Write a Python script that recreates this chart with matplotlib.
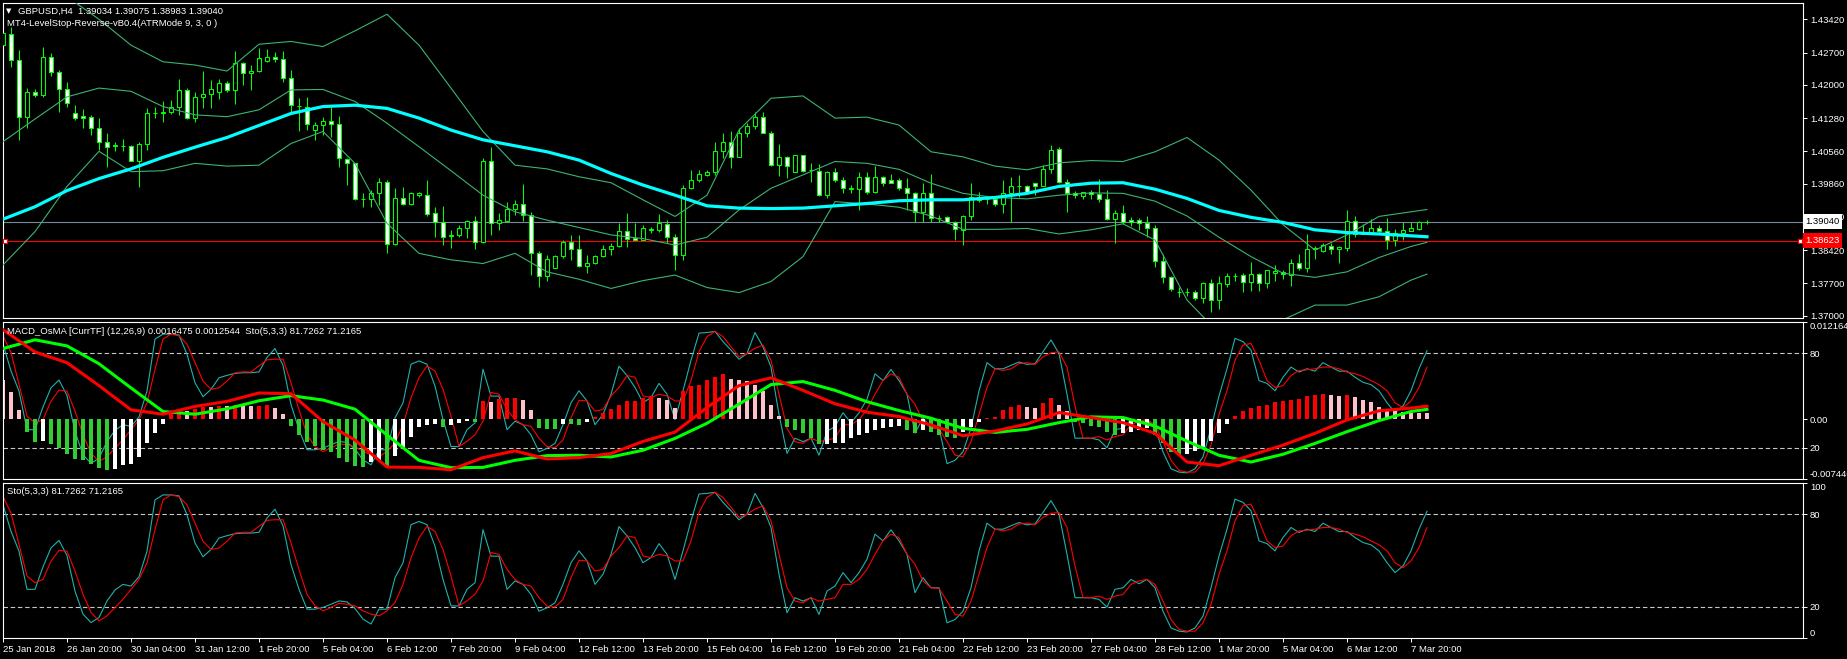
import matplotlib
matplotlib.use("Agg")
import matplotlib.pyplot as plt
import matplotlib.transforms as mtrans
import numpy as np

plt.rcParams['font.family'] = ['Liberation Sans', 'DejaVu Sans']

symbol_line = "GBPUSD,H4  1.39034 1.39075 1.38983 1.39040"
indicator_line = "MT4-LevelStop-Reverse-vB0.4(ATRMode 9, 3, 0 )"
macd_title = "MACD_OsMA [CurrTF] (12,26,9) 0.0016475 0.0012544  Sto(5,3,3) 81.7262 71.2165"
sto_title = "Sto(5,3,3) 81.7262 71.2165"

date_labels = ["25 Jan 2018", "26 Jan 20:00", "30 Jan 04:00", "31 Jan 12:00", "1 Feb 20:00",
               "5 Feb 04:00", "6 Feb 12:00", "7 Feb 20:00", "9 Feb 04:00", "12 Feb 12:00",
               "13 Feb 20:00", "15 Feb 04:00", "16 Feb 12:00", "19 Feb 20:00", "21 Feb 04:00",
               "22 Feb 12:00", "23 Feb 20:00", "27 Feb 04:00", "28 Feb 12:00", "1 Mar 20:00",
               "5 Mar 04:00", "6 Mar 12:00", "7 Mar 20:00"]
price_ticks = [1.43420, 1.42700, 1.42000, 1.41280, 1.40560, 1.39860, 1.39140, 1.38420, 1.37700, 1.37000]
bid = 1.39040
level_line = 1.38623

# H4 candles, bar 0 = 25 Jan 12:00
opens = [1.4286, 1.4310, 1.4254, 1.4131, 1.4185, 1.4178, 1.4260, 1.4227, 1.4190, 1.4138,
         1.4133, 1.4131, 1.4106, 1.4077, 1.4068, 1.4068, 1.4068, 1.4035, 1.4071, 1.4138,
         1.4140, 1.4141, 1.4153, 1.4189, 1.4128, 1.4174, 1.4180, 1.4185, 1.4203, 1.4188,
         1.4247, 1.4225, 1.4229, 1.4252, 1.4261, 1.4257, 1.4214, 1.4155, 1.4153, 1.4102,
         1.4112, 1.4121, 1.4115, 1.4039, 1.4030, 1.3952, 1.3953, 1.3965, 1.3990, 1.3855,
         1.3956, 1.3942, 1.3962, 1.3961, 1.3922, 1.3904, 1.3873, 1.3874, 1.3889, 1.3905,
         1.3860, 1.4036, 1.3900, 1.3906, 1.3932, 1.3941, 1.3918, 1.3835, 1.3785, 1.3804,
         1.3829, 1.3860, 1.3844, 1.3808, 1.3815, 1.3830, 1.3844, 1.3850, 1.3883, 1.3868,
         1.3864, 1.3886, 1.3886, 1.3898, 1.3870, 1.3832, 1.3976, 1.3993, 1.4005, 1.4012,
         1.4057, 1.4077, 1.4044, 1.4096, 1.4111, 1.4130, 1.4096, 1.4026, 1.4043, 1.4012,
         1.4047, 1.4015, 1.4014, 1.3961, 1.4012, 1.3993, 1.3975, 1.3974, 1.4001, 1.3969,
         1.4001, 1.3994, 1.3994, 1.3976, 1.3966, 1.3924, 1.3965, 1.3911, 1.3913, 1.3902,
         1.3886, 1.3917, 1.3958, 1.3952, 1.3953, 1.3943, 1.3965, 1.3980, 1.3980, 1.3987,
         1.3981, 1.4017, 1.4060, 1.3990, 1.3965, 1.3959, 1.3967, 1.3963, 1.3952, 1.3909,
         1.3922, 1.3907, 1.3907, 1.3900, 1.3889, 1.3819, 1.3783, 1.3752, 1.3751, 1.3752,
         1.3738, 1.3770, 1.3734, 1.3768, 1.3786, 1.3788, 1.3773, 1.3790, 1.3770, 1.3792,
         1.3795, 1.3788, 1.3815, 1.3803, 1.3845, 1.3841, 1.3852, 1.3844, 1.3846, 1.3905,
         1.3878, 1.3880, 1.3891, 1.3883, 1.3864, 1.3880, 1.3884, 1.3888, 1.39034]
highs = [1.4315, 1.4326, 1.4276, 1.4193, 1.4190, 1.4283, 1.4268, 1.4232, 1.4207, 1.4156,
         1.4147, 1.4135, 1.4129, 1.4095, 1.4077, 1.4082, 1.4070, 1.4077, 1.4149, 1.4151,
         1.4165, 1.4167, 1.4213, 1.4193, 1.4185, 1.4231, 1.4211, 1.4212, 1.4209, 1.4274,
         1.4250, 1.4243, 1.4279, 1.4277, 1.4272, 1.4274, 1.4232, 1.4171, 1.4174, 1.4120,
         1.4130, 1.4153, 1.4133, 1.4041, 1.4031, 1.3965, 1.3972, 1.3998, 1.3994, 1.3976,
         1.3978, 1.3969, 1.3969, 1.3994, 1.3936, 1.3938, 1.3886, 1.3897, 1.3907, 1.3916,
         1.4041, 1.4066, 1.3922, 1.3947, 1.3951, 1.3985, 1.3925, 1.3841, 1.3831, 1.3831,
         1.3865, 1.3875, 1.3875, 1.3831, 1.3831, 1.3853, 1.3857, 1.3901, 1.3922, 1.3901,
         1.3897, 1.3893, 1.3920, 1.3907, 1.3878, 1.3983, 1.4016, 1.4016, 1.4016, 1.4077,
         1.4095, 1.4099, 1.4107, 1.4117, 1.4142, 1.4142, 1.4101, 1.4072, 1.4046, 1.4048,
         1.4048, 1.4031, 1.4029, 1.4014, 1.4019, 1.4001, 1.3983, 1.4012, 1.4012, 1.4024,
         1.4003, 1.4007, 1.3999, 1.3999, 1.3969, 1.3988, 1.4007, 1.3918, 1.3915, 1.3906,
         1.3918, 1.3987, 1.3969, 1.3959, 1.3958, 1.3994, 1.4001, 1.4005, 1.3983, 1.3988,
         1.4026, 1.4070, 1.4066, 1.3995, 1.3971, 1.3969, 1.3972, 1.3995, 1.3972, 1.3930,
         1.3940, 1.3913, 1.3911, 1.3916, 1.3897, 1.3834, 1.3786, 1.3762, 1.3759, 1.3756,
         1.3774, 1.3779, 1.3785, 1.3793, 1.3793, 1.3792, 1.3816, 1.3793, 1.3799, 1.3810,
         1.3798, 1.3822, 1.3834, 1.3877, 1.3851, 1.3858, 1.3858, 1.3851, 1.3929, 1.3915,
         1.3899, 1.3909, 1.3896, 1.3911, 1.3887, 1.3902, 1.3904, 1.3906, 1.39075]
lows = [1.4250, 1.4239, 1.4081, 1.4106, 1.4174, 1.4174, 1.4219, 1.4142, 1.4153, 1.4124,
        1.4107, 1.4091, 1.4059, 1.4023, 1.4057, 1.4057, 1.4034, 1.3978, 1.4059, 1.4128,
        1.4120, 1.4137, 1.4135, 1.4125, 1.4120, 1.4149, 1.4149, 1.4169, 1.4185, 1.4159,
        1.4200, 1.4188, 1.4227, 1.4250, 1.4250, 1.4207, 1.4140, 1.4099, 1.4102, 1.4081,
        1.4091, 1.4088, 1.4023, 1.3983, 1.3951, 1.3936, 1.3936, 1.3940, 1.3835, 1.3853,
        1.3940, 1.3940, 1.3958, 1.3916, 1.3871, 1.3853, 1.3846, 1.3870, 1.3868, 1.3844,
        1.3857, 1.3875, 1.3886, 1.3902, 1.3918, 1.3906, 1.3788, 1.3763, 1.3776, 1.3803,
        1.3824, 1.3821, 1.3806, 1.3793, 1.3813, 1.3828, 1.3831, 1.3848, 1.3848, 1.3863,
        1.3863, 1.3880, 1.3882, 1.3857, 1.3799, 1.3821, 1.3974, 1.3990, 1.4003, 1.4005,
        1.4041, 1.4019, 1.4043, 1.4086, 1.4104, 1.4095, 1.4024, 1.4003, 1.3998, 1.4011,
        1.4012, 1.3990, 1.3959, 1.3956, 1.3990, 1.3966, 1.3965, 1.3930, 1.3964, 1.3966,
        1.3981, 1.3987, 1.3972, 1.3928, 1.3904, 1.3904, 1.3904, 1.3902, 1.3900, 1.3865,
        1.3853, 1.3907, 1.3947, 1.3942, 1.3938, 1.3922, 1.3904, 1.3958, 1.3966, 1.3961,
        1.3980, 1.4008, 1.3988, 1.3925, 1.3954, 1.3952, 1.3952, 1.3947, 1.3907, 1.3857,
        1.3899, 1.3894, 1.3886, 1.3871, 1.3806, 1.3770, 1.3754, 1.3741, 1.3743, 1.3735,
        1.3727, 1.3709, 1.3714, 1.3763, 1.3776, 1.3752, 1.3754, 1.3754, 1.3759, 1.3776,
        1.3779, 1.3764, 1.3800, 1.3795, 1.3822, 1.3839, 1.3834, 1.3815, 1.3841, 1.3870,
        1.3877, 1.3877, 1.3878, 1.3844, 1.3851, 1.3865, 1.3883, 1.3886, 1.38983]
closes = [1.4312, 1.4254, 1.4131, 1.4185, 1.4179, 1.4260, 1.4227, 1.4190, 1.4160, 1.4128,
          1.4128, 1.4106, 1.4077, 1.4066, 1.4069, 1.4067, 1.4035, 1.4071, 1.4138, 1.4140,
          1.4141, 1.4153, 1.4189, 1.4128, 1.4174, 1.4180, 1.4190, 1.4203, 1.4188, 1.4247,
          1.4225, 1.4229, 1.4259, 1.4261, 1.4255, 1.4214, 1.4156, 1.4154, 1.4115, 1.4112,
          1.4121, 1.4115, 1.4041, 1.4030, 1.3952, 1.3953, 1.3965, 1.3990, 1.3855, 1.3956,
          1.3943, 1.3965, 1.3965, 1.3920, 1.3904, 1.3871, 1.3874, 1.3889, 1.3905, 1.3860,
          1.4036, 1.3900, 1.3907, 1.3932, 1.3943, 1.3918, 1.3835, 1.3785, 1.3822, 1.3829,
          1.3860, 1.3844, 1.3808, 1.3815, 1.3830, 1.3844, 1.3850, 1.3883, 1.3866, 1.3864,
          1.3889, 1.3887, 1.3900, 1.3870, 1.3832, 1.3976, 1.3993, 1.4007, 1.4012, 1.4057,
          1.4077, 1.4044, 1.4096, 1.4111, 1.4130, 1.4096, 1.4026, 1.4043, 1.4024, 1.4047,
          1.4014, 1.4016, 1.3961, 1.4012, 1.3994, 1.3976, 1.3976, 1.4001, 1.3969, 1.4001,
          1.3988, 1.3988, 1.3976, 1.3966, 1.3924, 1.3965, 1.3911, 1.3912, 1.3902, 1.3887,
          1.3917, 1.3958, 1.3951, 1.3953, 1.3943, 1.3965, 1.3980, 1.3981, 1.3969, 1.3981,
          1.4017, 1.4059, 1.3990, 1.3965, 1.3961, 1.3967, 1.3963, 1.3952, 1.3909, 1.3922,
          1.3902, 1.3903, 1.3900, 1.3889, 1.3819, 1.3783, 1.3757, 1.3751, 1.3752, 1.3738,
          1.3770, 1.3734, 1.3770, 1.3786, 1.3787, 1.3773, 1.3790, 1.3770, 1.3798, 1.3797,
          1.3790, 1.3815, 1.3803, 1.3844, 1.3846, 1.3853, 1.3844, 1.3848, 1.3905, 1.3878,
          1.3882, 1.3891, 1.3883, 1.3864, 1.3880, 1.3886, 1.3889, 1.3902, 1.39040]

# smooth overlays, read every 4 bars
line_bars = [0, 4, 8, 12, 16, 20, 24, 28, 32, 36, 40, 44, 48, 52, 56, 60, 64, 68, 72, 76,
             80, 84, 88, 92, 96, 100, 104, 108, 112, 116, 120, 124, 128, 132, 136, 140, 144,
             148, 152, 156, 160, 164, 168, 172, 176, 178]
ma_cyan = [1.3909, 1.3936, 1.3971, 1.3997, 1.4018, 1.4043, 1.4065, 1.4086, 1.4112, 1.4138,
           1.4153, 1.4156, 1.4149, 1.4128, 1.4102, 1.4081, 1.4068, 1.4055, 1.4037, 1.4008,
           1.3983, 1.3961, 1.3938, 1.3933, 1.3932, 1.3933, 1.3938, 1.3943, 1.3949, 1.3951,
           1.3951, 1.3956, 1.3965, 1.3980, 1.3987, 1.3988, 1.3974, 1.3954, 1.3928, 1.3913,
           1.3902, 1.3886, 1.3880, 1.3877, 1.3873, 1.3871]
band_upper = [1.4499, 1.4449, 1.4391, 1.4342, 1.4286, 1.4250, 1.4243, 1.4230, 1.4288, 1.4294,
              1.4283, 1.4317, 1.4353, 1.4286, 1.4193, 1.4099, 1.4026, 1.4018, 1.4001, 1.3988,
              1.3951, 1.3915, 1.3961, 1.4102, 1.4171, 1.4176, 1.4128, 1.4130, 1.4113, 1.4055,
              1.4044, 1.4024, 1.4016, 1.4031, 1.4036, 1.4034, 1.4055, 1.4086, 1.4037, 1.3972,
              1.3897, 1.3842, 1.3875, 1.3915, 1.3925, 1.3930]
band_mid = [1.4077, 1.4126, 1.4174, 1.4193, 1.4186, 1.4153, 1.4135, 1.4131, 1.4146, 1.4189,
            1.4190, 1.4164, 1.4117, 1.4066, 1.4014, 1.3961, 1.3925, 1.3907, 1.3891, 1.3875,
            1.3867, 1.3853, 1.3870, 1.3929, 1.3976, 1.4005, 1.4034, 1.4030, 1.4017, 1.3987,
            1.3965, 1.3956, 1.3953, 1.3961, 1.3966, 1.3965, 1.3948, 1.3916, 1.3870, 1.3828,
            1.3792, 1.3783, 1.3795, 1.3826, 1.3850, 1.3859]
band_lower = [1.3810, 1.3882, 1.3980, 1.4056, 1.4012, 1.4014, 1.4030, 1.4024, 1.4026, 1.4073,
              1.4099, 1.4030, 1.3900, 1.3835, 1.3821, 1.3813, 1.3835, 1.3795, 1.3779, 1.3759,
              1.3776, 1.3788, 1.3761, 1.3750, 1.3774, 1.3828, 1.3947, 1.3942, 1.3935, 1.3916,
              1.3887, 1.3887, 1.3889, 1.3877, 1.3886, 1.3899, 1.3864, 1.3734, 1.3662, 1.3655,
              1.3691, 1.3723, 1.3723, 1.3741, 1.3777, 1.3790]

# MACD_OsMA window
osma = [0.00498, 0.00338, 0.00120, -0.00153, -0.00279, -0.00267, -0.00309, -0.00363, -0.00435, -0.00490,
        -0.00511, -0.00561, -0.00603, -0.00637, -0.00616, -0.00574, -0.00561, -0.00468, -0.00292, -0.00166,
        -0.00057, 0.00078, 0.00128, 0.00111, 0.00128, 0.00153, 0.00150, 0.00170, 0.00168, 0.00179,
        0.00175, 0.00165, 0.00170, 0.00180, 0.00141, 0.00069, -0.00082, -0.00195, -0.00279, -0.00334,
        -0.00384, -0.00405, -0.00477, -0.00532, -0.00586, -0.00595, -0.00532, -0.00511, -0.00595, -0.00460,
        -0.00351, -0.00216, -0.00099, -0.00069, -0.00061, -0.00090, -0.00069, -0.00048, -0.00015, -0.00027,
        0.00225, 0.00212, 0.00255, 0.00267, 0.00270, 0.00246, 0.00120, -0.00111, -0.00115, -0.00120,
        -0.00057, -0.00060, -0.00065, -0.00027, 0.00027, 0.00078, 0.00128, 0.00183, 0.00225, 0.00226,
        0.00267, 0.00288, 0.00267, 0.00246, 0.00141, 0.00351, 0.00414, 0.00435, 0.00498, 0.00532,
        0.00561, 0.00506, 0.00490, 0.00475, 0.00435, 0.00351, 0.00183, 0.00044, -0.00090, -0.00132,
        -0.00174, -0.00237, -0.00309, -0.00305, -0.00300, -0.00290, -0.00237, -0.00195, -0.00174, -0.00132,
        -0.00111, -0.00090, -0.00080, -0.00132, -0.00174, -0.00132, -0.00153, -0.00195, -0.00216, -0.00237,
        -0.00153, -0.00090, -0.00027, 0.00015, 0.00036, 0.00120, 0.00153, 0.00183, 0.00153, 0.00141,
        0.00204, 0.00267, 0.00183, 0.00099, -0.00027, -0.00048, -0.00082, -0.00090, -0.00153, -0.00195,
        -0.00174, -0.00153, -0.00132, -0.00111, -0.00195, -0.00300, -0.00405, -0.00439, -0.00426, -0.00393,
        -0.00342, -0.00267, -0.00166, -0.00057, 0.00044, 0.00099, 0.00141, 0.00162, 0.00183, 0.00212,
        0.00225, 0.00246, 0.00254, 0.00288, 0.00309, 0.00321, 0.00309, 0.00288, 0.00300, 0.00279,
        0.00246, 0.00212, 0.00153, 0.00128, 0.00099, 0.00090, 0.00085, 0.00082, 0.00079]
macd_main = [0.01120, 0.00842, 0.00708, 0.00422, 0.00120, 0.00065, 0.00162, 0.00225, 0.00330, 0.00321,
             -0.00027, -0.00258, -0.00595, -0.00599, -0.00628, -0.00477, -0.00393, -0.00494, -0.00477, -0.00426,
             -0.00275, -0.00158, 0.00149, 0.00422, 0.00519, 0.00363, 0.00195, 0.00090, 0.00036, -0.00069,
             -0.00204, -0.00145, -0.00057, 0.00086, 0.00023, -0.00040, -0.00174, -0.00532, -0.00578, -0.00448,
             -0.00321, -0.00174, -0.00006, 0.00107, 0.00141, 0.0016475]
macd_signal = [0.00885, 0.00994, 0.00918, 0.00695, 0.00393, 0.00099, 0.00065, 0.00132, 0.00233, 0.00296,
               0.00242, 0.00128, -0.00195, -0.00511, -0.00603, -0.00599, -0.00511, -0.00452, -0.00448, -0.00469,
               -0.00385, -0.00237, -0.00048, 0.00191, 0.00435, 0.00473, 0.00363, 0.00221, 0.00111, 0.00015,
               -0.00111, -0.00162, -0.00124, -0.00040, 0.00032, 0.00023, -0.00082, -0.00271, -0.00448, -0.00532,
               -0.00435, -0.00300, -0.00153, -0.00015, 0.00099, 0.0012544]

# Stochastic(5,3,3), shown in both lower windows
sto_main = [85.9, 68.8, 56.0, 31.4, 31.4, 45.9, 58.1, 63.0, 53.2, 30.3, 15.4, 10.0, 13.2, 23.9, 31.0,
            34.6, 33.5, 39.5, 56.0, 89.1, 92.3, 92.3, 91.7, 79.5, 61.3, 52.4, 57.1, 64.5, 66.0, 67.3,
            67.7, 67.7, 68.2, 77.4, 83.1, 72.4, 47.4, 31.4, 18.6, 18.6, 19.7, 21.8, 23.9, 23.3, 19.0,
            12.2, 9.0, 18.6, 18.6, 38.9, 48.5, 73.1, 75.2, 73.1, 59.2, 37.8, 20.7, 20.7, 31.4, 35.7,
            69.9, 52.8, 52.8,
            31.4, 36.8, 34.6, 28.1, 17.3, 19.5, 22.7, 34.6, 48.6, 56.2,
            49.7, 34.6, 41.1, 54.0, 71.9, 65.9, 58.3, 48.6, 51.9, 60.9,
            54.0, 37.8, 56.2, 75.6, 92.9, 93.3, 94.0, 87.5, 82.1, 76.3,
            79.9, 93.3, 84.2, 71.3, 41.1, 16.3, 26.0, 23.8, 26.0, 15.2,
            30.3, 33.5, 42.2, 35.7, 42.2, 50.8, 67.0, 62.7, 69.8, 62.7,
            54.0, 29.2, 38.9, 32.4, 32.4, 9.8, 11.9, 17.3, 32.4, 56.2,
            74.1, 70.2, 70.2, 72.4, 74.5, 73.0, 73.5, 81.0, 88.6, 79.9,
            54.0, 26.0, 26.0, 26.0, 24.9, 19.9, 31.4, 32.4, 37.8, 35.0,
            37.8, 32.4, 17.3, 6.5, 4.4, 3.9, 6.5, 14.1, 32.4, 52.9,
            70.2, 89.6, 87.5, 82.1, 62.7, 60.9, 56.2, 64.8, 71.3, 68.1,
            70.2, 68.7, 74.1, 71.3, 68.7, 68.7, 64.8, 61.6, 60.1, 56.2,
            48.6, 42.2, 46.5, 56.2, 70.2, 81.7262]
sto_signal = [91.2, 80.6, 60.3, 40.0, 35.7, 37.8, 49.6, 56.6, 56.0, 43.2, 28.2, 16.5, 11.1, 14.3, 19.7,
              25.0, 31.4, 37.8, 48.5, 69.9, 89.1, 92.3, 91.2, 85.9, 74.1, 62.4, 57.1, 58.1, 62.4, 67.7,
              68.2, 68.2, 72.0, 75.9, 76.3, 76.3, 61.3, 44.2, 28.2, 20.7, 17.5, 19.7, 22.4, 21.8, 20.7,
              17.5, 15.4, 14.3, 17.5, 22.9, 34.6, 51.7, 64.5, 72.0, 68.8, 57.1, 40.0, 20.7, 24.0, 28.2,
              36.8, 55.1, 54.0,
              44.3, 37.8, 34.6, 33.5, 26.0, 20.6, 19.9, 24.9, 38.9, 50.1,
              49.7, 43.2, 44.3, 52.9, 58.3, 65.9, 64.8, 52.9, 51.9, 54.0,
              52.9, 49.7, 49.7, 62.7, 81.0, 90.7, 94.0, 90.7, 84.2, 77.8,
              79.9, 83.2, 85.3, 75.6, 54.0, 32.4, 23.8, 22.7, 26.0, 23.8,
              24.9, 26.0, 34.6, 34.6, 37.8, 44.3, 54.0, 62.7, 67.0, 64.8,
              54.0, 47.5, 36.8, 32.4, 32.0, 23.8, 15.2, 14.1, 23.8, 41.1,
              58.3, 70.2, 69.1, 70.2, 73.5, 74.1, 73.0, 77.8, 80.4, 81.0,
              71.3, 46.5, 26.0, 26.0, 27.0, 24.9, 27.0, 28.1, 34.6, 36.8,
              37.8, 34.6, 23.8, 11.9, 5.5, 4.4, 4.4, 9.8, 21.6, 41.1,
              56.2, 75.6, 85.3, 86.4, 75.6, 62.7, 58.3, 59.4, 65.9, 69.1,
              69.6, 70.2, 71.3, 71.3, 70.2, 68.1, 67.0, 65.3, 62.7, 60.1,
              56.2, 48.6, 45.4, 49.7, 58.3, 71.2165]

W, H = 1847, 659
BG = 'black'
FS = 6.8
fig = plt.figure(figsize=(W / 100, H / 100), dpi=100, facecolor=BG)


def right_ticks(a):
    a.yaxis.tick_right()
    a.yaxis.set_label_position('right')
    a.tick_params(axis='y', colors='white', direction='out', length=3, width=0.7,
                  labelsize=FS, pad=2)


def px_axes(x0, y0, x1, y1):
    a = fig.add_axes([x0 / W, 1 - y1 / H, (x1 - x0) / W, (y1 - y0) / H])
    a.set_facecolor(BG)
    for s in a.spines.values():
        s.set_color('white')
        s.set_linewidth(0.8)
    a.set_xlim(0, 225)
    a.set_xticks([])
    right_ticks(a)
    return a


def ftext(x, y, s, **kw):
    kw.setdefault('fontsize', FS)
    fig.text(x / W, 1 - y / H, s, color='white', va='center', ha='left', **kw)


ax = px_axes(3, 3, 1803, 318)
am = px_axes(3, 322, 1803, 479)
ast = px_axes(3, 483, 1803, 638)

# ---- price window
o, h, l, c = (np.array(v) for v in (opens, highs, lows, closes))
x = np.arange(len(c))
ax.vlines(x, l, h, color='#00ff00', lw=0.75, zorder=2)
bull = c >= o
ax.bar(x, np.abs(c - o), 0.62, np.minimum(o, c), color=np.where(bull, 'black', 'white'),
       edgecolor='#00ff00', linewidth=0.75, zorder=3)
for band in (band_upper, band_mid, band_lower):
    ax.plot(line_bars, band, color='#3cb371', lw=0.8, zorder=4)
ax.plot(line_bars, ma_cyan, color='#00ffff', lw=2.3, zorder=5)
ax.axhline(bid, color='#778899', lw=0.8, zorder=1)
ax.axhline(level_line, color='#ff0000', lw=0.8, zorder=1)
ax.plot([0.3, 224.6], [level_line, level_line], 's', ms=3.2, mfc='white', mec='#ff0000',
        mew=0.8, clip_on=False, zorder=6)
ax.set_ylim(1.36950, 1.43773)
ax.set_yticks(price_ticks)
ax.set_yticklabels(['%.5f' % p for p in price_ticks])
tr = mtrans.blended_transform_factory(ax.transAxes, ax.transData)
ax.text(1.0013, bid, '1.39040', transform=tr, color='black', fontsize=FS, va='center',
        ha='left', clip_on=False, zorder=10,
        bbox=dict(boxstyle='square,pad=0.3', fc='white', ec='none'))
ax.text(1.0013, level_line, '1.38623', transform=tr, color='white', fontsize=FS,
        va='center', ha='left', clip_on=False, zorder=10,
        bbox=dict(boxstyle='square,pad=0.3', fc='#ff0000', ec='none'))

# ---- MACD_OsMA window, stochastic drawn on a second scale
am2 = am.twinx()
right_ticks(am)
am2.set_ylim(0, 100)
for s in am2.spines.values():
    s.set_visible(False)
right_ticks(am2)
am2.set_yticks([80, 20])
am2.axhline(80, color='#c8c8c8', lw=0.8, ls=(0, (4, 2.5)))
am2.axhline(20, color='#c8c8c8', lw=0.8, ls=(0, (4, 2.5)))
am2.plot(x, sto_main, color='#20b2aa', lw=0.8)
am2.plot(x, sto_signal, color='#ff0000', lw=0.8)
am.set_zorder(am2.get_zorder() + 1)
am.patch.set_visible(False)

hv = np.array(osma)
cols = []
for i, v in enumerate(hv):
    prev = hv[i - 1] if i else v + 1
    if v >= 0:
        cols.append('#ff0000' if v >= prev else '#ffc0cb')
    else:
        cols.append('#32cd32' if v <= prev else 'white')
am.bar(x, hv, 0.45, color=cols, zorder=2)
am.plot(line_bars, macd_signal, color='#00ff00', lw=2.2, zorder=3)
am.plot(line_bars, macd_main, color='#ff0000', lw=2.2, zorder=3)
am.set_ylim(-0.007440, 0.012164)
am.set_yticks([0.012164, 0.0, -0.007440])
am.set_yticklabels(['0.012164', '0.00', '-0.007440'])
lab = am.get_yticklabels()
lab[0].set_va('top')
lab[2].set_va('bottom')

# ---- Stochastic window
ast.set_ylim(0, 100)
ast.axhline(80, color='#c8c8c8', lw=0.8, ls=(0, (4, 2.5)))
ast.axhline(20, color='#c8c8c8', lw=0.8, ls=(0, (4, 2.5)))
ast.plot(x, sto_main, color='#20b2aa', lw=0.8)
ast.plot(x, sto_signal, color='#ff0000', lw=0.8)
ast.set_yticks([100, 80, 20, 0])
lab = ast.get_yticklabels()
lab[0].set_va('top')
lab[3].set_va('bottom')
ast.set_xticks(np.arange(len(date_labels)) * 8)
ast.set_xticklabels(date_labels, ha='left')
ast.tick_params(axis='x', colors='white', direction='out', length=3, width=0.7,
                labelsize=FS, pad=2)

# ---- window captions
ftext(6, 11, '\u25bc', fontsize=5, family='DejaVu Sans')
ftext(18, 11, symbol_line)
ftext(7, 24, indicator_line)
ftext(7, 331, macd_title)
ftext(7, 492, sto_title)

fig.savefig('out.png', dpi=100, facecolor=BG)
